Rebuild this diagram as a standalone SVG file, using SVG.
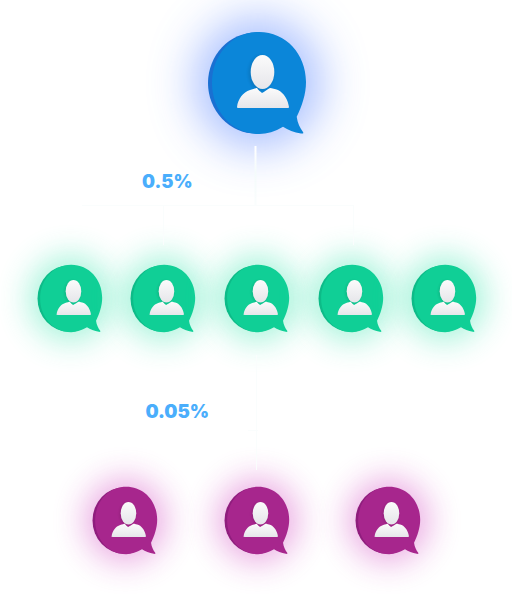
<svg xmlns="http://www.w3.org/2000/svg" width="512" height="600" viewBox="0 0 512 600">
<style>
.blue{--f:#0b86d9;--d:#1a70d2;--g:#4a78ff;--o:.5}
.green{--f:#10cf96;--d:#0dbb88;--g:#3fe6b0;--o:.48}
.purple{--f:#a7268d;--d:#8f1d7d;--g:#d552c4;--o:.48}
.glow{fill:var(--g);opacity:var(--o)}
.side{fill:var(--d)}
.front{fill:var(--f)}
.pct{font-family:Inter,"Liberation Sans",sans-serif;font-weight:900;fill:#4aaefc}
.wire{fill:none;stroke:#fafdfd;stroke-width:1}
</style>
<defs>
<filter id="blur" x="-120%" y="-120%" width="340%" height="340%"><feGaussianBlur stdDeviation="24"/></filter>
<filter id="soft" x="-20%" y="-20%" width="140%" height="140%"><feGaussianBlur stdDeviation="1.6"/></filter>
<linearGradient id="stem" x1="0" y1="146" x2="0" y2="205" gradientUnits="userSpaceOnUse"><stop offset="0" stop-color="#fff"/><stop offset=".45" stop-color="#f4fbfb"/><stop offset="1" stop-color="#fafdfd"/></linearGradient>
<linearGradient id="body" x1="0" y1="0" x2="0" y2="1"><stop offset="0" stop-color="#fbfbfb"/><stop offset="1" stop-color="#e6e6ea"/></linearGradient>
<g id="icon">
<ellipse class="glow" cx="0" cy="0" rx="62" ry="64" filter="url(#blur)"/>
<ellipse class="side" cx="-2" cy="0" rx="48" ry="50.500"/>
<path class="front" d="M1 -51C28 -51 48 -29 48 -1C48 11 44 23 38.700 33.700C39.500 40 42 45 45 49C45.800 50.500 45 50.800 43 50.500C36 49.500 30 47 25 43.700C17 48.500 9 51 1 51C-26 51 -46 28 -46 0C-46 -28 -26 -51 1 -51Z"/>
<ellipse cx="3" cy="-10" rx="12.500" ry="17.500" fill="#000" opacity=".1" filter="url(#soft)"/>
<ellipse cx="4.500" cy="-11" rx="11.800" ry="17" fill="url(#body)"/>
<path d="M-21 24C-20 16 -15 9 -8 7C-5 6 -2 5 -1 5C0 7 3 9 4 10C6 9 10 6 12 5C14 5 17 6 20 7C26 10 30 17 31 24C31 25 30 25 29 25L-19 25C-20 25 -21 25 -21 24Z" fill="url(#body)"/>
</g>
</defs>
<rect width="512" height="600" fill="#fff"/>
<g id="top" class="blue"><use href="#icon" transform="translate(258 83)"/></g>
<g id="mid-1" class="green"><use href="#icon" transform="translate(70.500 298.500) scale(.66)"/></g>
<g id="mid-2" class="green"><use href="#icon" transform="translate(163.500 298.500) scale(.66)"/></g>
<g id="mid-3" class="green"><use href="#icon" transform="translate(257.500 298.500) scale(.66)"/></g>
<g id="mid-4" class="green"><use href="#icon" transform="translate(351.500 298.500) scale(.66)"/></g>
<g id="mid-5" class="green"><use href="#icon" transform="translate(444.500 298.500) scale(.66)"/></g>
<g id="low-1" class="purple"><use href="#icon" transform="translate(125.500 520.500) scale(.66)"/></g>
<g id="low-2" class="purple"><use href="#icon" transform="translate(257.500 520.500) scale(.66)"/></g>
<g id="low-3" class="purple"><use href="#icon" transform="translate(388.500 520.500) scale(.66)"/></g>
<g id="connectors">
<path d="M255.500 146V205" fill="none" stroke="url(#stem)" stroke-width="2"/>
<path class="wire" d="M82 205.500H354M163.500 205.500V245M353.500 205.500V245M256.500 355V470M248 430.500H258"/>
</g>
<text id="rate-1" class="pct" x="142" y="188" font-size="18.300">0.5%</text>
<text id="rate-2" class="pct" x="145.500" y="417.500" font-size="18.500">0.05%</text>
</svg>
